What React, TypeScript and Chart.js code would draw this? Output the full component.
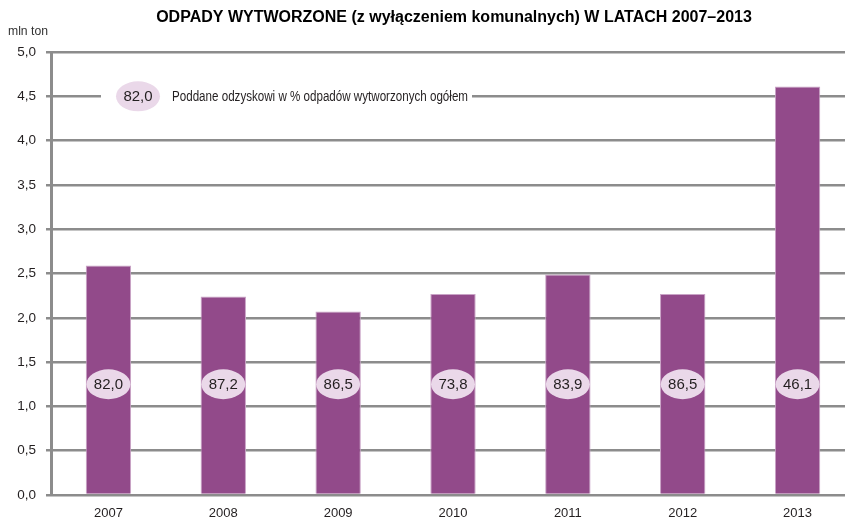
import React, { useEffect, useRef } from "react";
import { Chart, registerables } from "chart.js";

Chart.register(...registerables);

const categories = ["2007", "2008", "2009", "2010", "2011", "2012", "2013"];
const wasteMlnTons = [2.59, 2.24, 2.07, 2.27, 2.49, 2.27, 4.61];
const recoveredPct = [82.0, 87.2, 86.5, 73.8, 83.9, 86.5, 46.1];
const legendSamplePct = 82.0;
const legendText = "Poddane odzyskowi w % odpadów wytworzonych ogółem";
const titleText = "ODPADY WYTWORZONE (z wyłączeniem komunalnych) W LATACH 2007–2013";
const unitText = "mln ton";
const yMin = 0;
const yMax = 5;
const yStep = 0.5;
const ellipseLevel = 1.25;
const legendLevel = 4.5;

const SANS = "'Liberation Sans', Arial, sans-serif";
const BAR = "#924a8a";
const PILL = "#ead8e9";
const GRID = "#8c8c8c";
const TEXT = "#231f20";

const fmt = (v: number) => v.toFixed(1).replace(".", ",");

function pill(ctx: CanvasRenderingContext2D, x: number, y: number, label: string) {
  ctx.save();
  ctx.beginPath();
  ctx.ellipse(x, y, 22, 15, 0, 0, Math.PI * 2);
  ctx.fillStyle = PILL;
  ctx.fill();
  ctx.fillStyle = TEXT;
  ctx.font = `15px ${SANS}`;
  ctx.textAlign = "center";
  ctx.textBaseline = "middle";
  ctx.fillText(label, x, y + 1, 32);
  ctx.restore();
}

const overlayPlugin = {
  id: "overlay",
  afterDatasetsDraw(chart: any) {
    const ctx = chart.ctx as CanvasRenderingContext2D;
    const meta = chart.getDatasetMeta(0);
    const ys = chart.scales.y;
    meta.data.forEach((el: any, i: number) => {
      pill(ctx, el.x, ys.getPixelForValue(ellipseLevel), fmt(recoveredPct[i]));
    });
  },
  afterDraw(chart: any) {
    const ctx = chart.ctx as CanvasRenderingContext2D;
    const ys = chart.scales.y;
    // title
    ctx.save();
    ctx.fillStyle = "#000";
    ctx.font = `bold 16px ${SANS}`;
    ctx.textAlign = "center";
    ctx.textBaseline = "middle";
    ctx.fillText(titleText, 454, 18, 596);
    // unit
    ctx.font = `13px ${SANS}`;
    ctx.fillStyle = "#333";
    ctx.textAlign = "left";
    ctx.fillText(unitText, 8, 31, 40);
    // legend
    const ly = ys.getPixelForValue(legendLevel);
    ctx.fillStyle = "#fff";
    ctx.fillRect(101, ly - 4, 371, 8);
    pill(ctx, 138, ly, fmt(legendSamplePct));
    ctx.font = `14px ${SANS}`;
    ctx.fillStyle = TEXT;
    ctx.textAlign = "left";
    ctx.textBaseline = "middle";
    ctx.fillText(legendText, 172, ly + 1, 296);
    ctx.restore();
  },
};

export default function App() {
  const ref = useRef<HTMLCanvasElement | null>(null);
  useEffect(() => {
    if (!ref.current) return;
    const chart = new Chart(ref.current, {
      type: "bar",
      data: {
        labels: categories,
        datasets: [
          {
            data: wasteMlnTons,
            backgroundColor: BAR,
            borderColor: "#c9a3c6",
            borderWidth: 1,
            borderSkipped: "bottom",
            categoryPercentage: 1,
            barPercentage: 0.395,
          },
        ],
      },
      options: {
        animation: false,
        responsive: true,
        maintainAspectRatio: false,
        layout: { padding: { top: 52, right: 0, left: 0, bottom: 0 } },
        plugins: { legend: { display: false }, tooltip: { enabled: false }, title: { display: false } },
        scales: {
          x: {
            offset: true,
            afterFit: (s: any) => { s.height = 24; },
            grid: { display: false, drawTicks: false },
            border: { display: false },
            ticks: { color: TEXT, font: { family: SANS, size: 13 }, padding: 11, maxRotation: 0 },
          },
          y: {
            min: yMin,
            max: yMax,
            afterFit: (s: any) => { s.width = 51; },
            ticks: {
              stepSize: yStep,
              color: TEXT,
              padding: 10,
              font: { family: SANS, size: 13.5 },
              callback: (v: any) => fmt(Number(v)),
            },
            grid: { color: GRID, lineWidth: 2.5, tickLength: 5, tickColor: GRID },
            border: { display: true, color: GRID, width: 3 },
          },
        },
      },
      plugins: [overlayPlugin],
    });
    return () => chart.destroy();
  }, []);
  return (
    <div style={{ position: "absolute", left: 0, top: 0, width: 845, height: 519, overflow: "hidden", background: "#fff" }}>
      <div style={{ position: "relative", width: 855, height: 519 }}>
        <canvas ref={ref} />
      </div>
    </div>
  );
}
